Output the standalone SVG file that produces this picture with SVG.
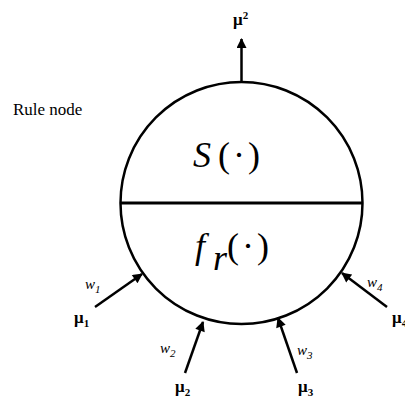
<svg xmlns="http://www.w3.org/2000/svg" width="405" height="398" viewBox="0 0 405 398">
<defs>
<marker id="ah" viewBox="0 0 10 10" refX="9" refY="5" markerWidth="4.4" markerHeight="4" orient="auto" markerUnits="strokeWidth">
<path d="M0,0 L10,5 L0,10 Z" fill="#000"/>
</marker>
</defs>
<rect width="405" height="398" fill="#fff"/>
<g id="rule-node">
<circle cx="241.5" cy="203" r="121" stroke="#000" stroke-width="2.5" fill="none"/>
<line x1="120.5" y1="203" x2="362.5" y2="203" stroke="#000" stroke-width="3"/>
<text x="193" y="167" font-family="Liberation Serif" font-size="36"><tspan font-style="italic">S</tspan><tspan dx="7">(</tspan><tspan dx="3">&#183;</tspan><tspan dx="3">)</tspan></text>
<text x="195" y="258" font-family="Liberation Serif" font-size="36"><tspan font-style="italic">f</tspan><tspan font-style="italic" dy="12" dx="8">r</tspan><tspan dy="-12">(</tspan><tspan dx="3">&#183;</tspan><tspan dx="3">)</tspan></text>
</g>
<g id="label-rule">
<text x="13" y="115" font-family="Liberation Serif" font-size="17">Rule node</text>
</g>
<g id="output">
<text x="233" y="25" font-family="Liberation Serif" font-size="17" font-weight="bold">&#956;<tspan font-size="11" dy="-6">2</tspan></text>
</g>
<g id="inputs">
<text x="85" y="289" font-family="Liberation Serif" font-size="15" font-style="italic">w<tspan font-size="11" dy="4">1</tspan></text>
<text x="74" y="323" font-family="Liberation Serif" font-size="17" font-weight="bold">&#956;<tspan font-size="11" dy="4">1</tspan></text>
<text x="160" y="353" font-family="Liberation Serif" font-size="15" font-style="italic">w<tspan font-size="11" dy="4">2</tspan></text>
<text x="175" y="392" font-family="Liberation Serif" font-size="17" font-weight="bold">&#956;<tspan font-size="11" dy="4">2</tspan></text>
<text x="297" y="355" font-family="Liberation Serif" font-size="15" font-style="italic">w<tspan font-size="11" dy="4">3</tspan></text>
<text x="298" y="392" font-family="Liberation Serif" font-size="17" font-weight="bold">&#956;<tspan font-size="11" dy="4">3</tspan></text>
<text x="367" y="287" font-family="Liberation Serif" font-size="15" font-style="italic">w<tspan font-size="11" dy="4">4</tspan></text>
<text x="392" y="323" font-family="Liberation Serif" font-size="17" font-weight="bold">&#956;<tspan font-size="11" dy="4">4</tspan></text>
</g>
<g id="connectors" stroke="#000" stroke-width="2.5" fill="none">
<line x1="241.5" y1="82" x2="241.5" y2="39" marker-end="url(#ah)"/>
<line x1="95" y1="307" x2="142" y2="274" marker-end="url(#ah)"/>
<line x1="185" y1="373" x2="203" y2="322" marker-end="url(#ah)"/>
<line x1="297" y1="373" x2="278" y2="318" marker-end="url(#ah)"/>
<line x1="387" y1="307" x2="342" y2="273" marker-end="url(#ah)"/>
</g>
</svg>
